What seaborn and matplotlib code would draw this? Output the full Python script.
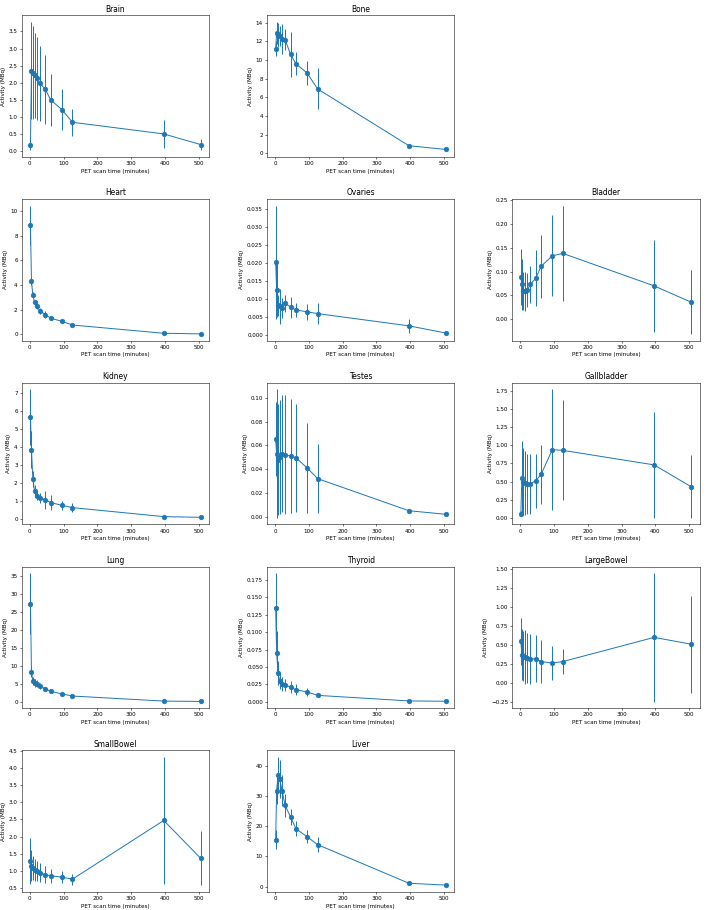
import matplotlib
matplotlib.use("Agg")
import matplotlib.pyplot as plt
import seaborn as sns
import numpy as np
import pandas as pd

times = [2, 5, 9, 14, 21, 30, 46, 62, 95, 126, 396, 505]

organs = ["Brain", "Bone", None,
          "Heart", "Ovaries", "Bladder",
          "Kidney", "Testes", "Gallbladder",
          "Lung", "Thyroid", "LargeBowel",
          "SmallBowel", "Liver", None]

brain = [0.18, 2.36, 2.30, 2.22, 2.13, 1.99, 1.81, 1.50, 1.22, 0.85, 0.51, 0.20]
brain_err = [0.15, 1.42, 1.35, 1.25, 1.20, 1.10, 1.00, 0.77, 0.60, 0.39, 0.42, 0.15]

bone = [11.2, 12.9, 12.7, 12.6, 12.3, 12.2, 10.6, 9.6, 8.6, 6.9, 0.8, 0.4]
bone_err = [0.8, 1.2, 1.3, 1.1, 1.6, 1.1, 2.4, 1.25, 1.3, 2.2, 0.15, 0.1]

heart = [8.85, 4.3, 3.2, 2.6, 2.3, 1.9, 1.6, 1.3, 1.05, 0.75, 0.08, 0.03]
heart_err = [1.6, 0.3, 0.25, 0.2, 0.25, 0.25, 0.25, 0.1, 0.1, 0.08, 0.03, 0.02]

ovaries = [0.0203, 0.0126, 0.0083, 0.0080, 0.0076, 0.0089, 0.0078, 0.0070, 0.0065, 0.0060, 0.0026, 0.0006]
ovaries_err = [0.0157, 0.0075, 0.0030, 0.0048, 0.0028, 0.0024, 0.0029, 0.0019, 0.0022, 0.0030, 0.0020, 0.0003]

bladder = [0.089, 0.073, 0.059, 0.059, 0.061, 0.073, 0.086, 0.111, 0.133, 0.138, 0.070, 0.036]
bladder_err = [0.059, 0.054, 0.040, 0.041, 0.036, 0.039, 0.059, 0.066, 0.085, 0.100, 0.097, 0.067]

kidney = [5.65, 3.85, 2.22, 1.55, 1.28, 1.15, 1.05, 0.90, 0.75, 0.62, 0.12, 0.08]
kidney_err = [1.55, 1.05, 0.45, 0.35, 0.25, 0.30, 0.50, 0.40, 0.25, 0.25, 0.05, 0.03]

testes = [0.065, 0.053, 0.048, 0.050, 0.053, 0.052, 0.051, 0.0495, 0.041, 0.032, 0.005, 0.002]
testes_err = [0.031, 0.054, 0.047, 0.048, 0.049, 0.050, 0.048, 0.0455, 0.038, 0.029, 0.001, 0.001]

gallbladder = [0.06, 0.55, 0.50, 0.48, 0.47, 0.47, 0.51, 0.60, 0.94, 0.93, 0.73, 0.43]
gallbladder_err = [0.03, 0.51, 0.46, 0.44, 0.41, 0.41, 0.37, 0.41, 0.83, 0.69, 0.73, 0.43]

lung = [27.3, 8.4, 5.9, 5.4, 5.1, 4.4, 3.7, 3.0, 2.3, 1.7, 0.3, 0.2]
lung_err = [8.5, 1.5, 1.2, 1.1, 1.0, 0.8, 0.6, 0.4, 0.3, 0.2, 0.1, 0.05]

thyroid = [0.135, 0.070, 0.041, 0.030, 0.026, 0.024, 0.021, 0.017, 0.014, 0.009, 0.001, 0.0005]
thyroid_err = [0.050, 0.031, 0.017, 0.012, 0.010, 0.009, 0.008, 0.008, 0.006, 0.003, 0.001, 0.0004]

largebowel = [0.55, 0.37, 0.35, 0.34, 0.33, 0.31, 0.32, 0.28, 0.26, 0.28, 0.60, 0.51]
largebowel_err = [0.31, 0.34, 0.33, 0.36, 0.33, 0.33, 0.31, 0.29, 0.23, 0.17, 0.85, 0.64]

smallbowel = [1.29, 1.15, 1.08, 1.03, 0.99, 0.95, 0.89, 0.86, 0.82, 0.76, 2.47, 1.37]
smallbowel_err = [0.67, 0.45, 0.35, 0.32, 0.29, 0.27, 0.24, 0.20, 0.17, 0.16, 1.85, 0.79]

liver = [15.6, 31.8, 37.0, 35.6, 31.8, 26.9, 23.1, 19.2, 16.5, 13.9, 1.1, 0.5]
liver_err = [3.3, 4.5, 6.0, 6.2, 5.2, 3.9, 2.6, 2.4, 2.1, 2.5, 0.2, 0.1]

data = {
    "Brain": (brain, brain_err), "Bone": (bone, bone_err),
    "Heart": (heart, heart_err), "Ovaries": (ovaries, ovaries_err),
    "Bladder": (bladder, bladder_err), "Kidney": (kidney, kidney_err),
    "Testes": (testes, testes_err), "Gallbladder": (gallbladder, gallbladder_err),
    "Lung": (lung, lung_err), "Thyroid": (thyroid, thyroid_err),
    "LargeBowel": (largebowel, largebowel_err), "SmallBowel": (smallbowel, smallbowel_err),
    "Liver": (liver, liver_err),
}

plt.rcParams["font.size"] = 8.6
plt.rcParams["axes.titlesize"] = 11.5
plt.rcParams["xtick.major.size"] = 3
plt.rcParams["ytick.major.size"] = 3

color = "#1f77b4"
fig, axes = plt.subplots(5, 3, figsize=(15, 19.28), dpi=47.2)
for ax, name in zip(axes.flat, organs):
    if name is None:
        ax.remove()
        continue
    vals, errs = data[name]
    df = pd.DataFrame({"t": times, "a": vals})
    ax.errorbar(times, vals, yerr=errs, fmt="none", ecolor=color, elinewidth=1.5)
    sns.lineplot(data=df, x="t", y="a", ax=ax, color=color, marker="o",
                 markersize=7, markeredgecolor=color, markeredgewidth=1, lw=1.5)
    ax.set_title(name)
    ax.set_xlabel("PET scan time (minutes)")
    ax.set_ylabel("Activity (MBq)")

fig.subplots_adjust(left=0.031, right=0.988, top=0.983, bottom=0.020,
                    wspace=0.31, hspace=0.30)
fig.savefig("out.png", dpi=47.2)
